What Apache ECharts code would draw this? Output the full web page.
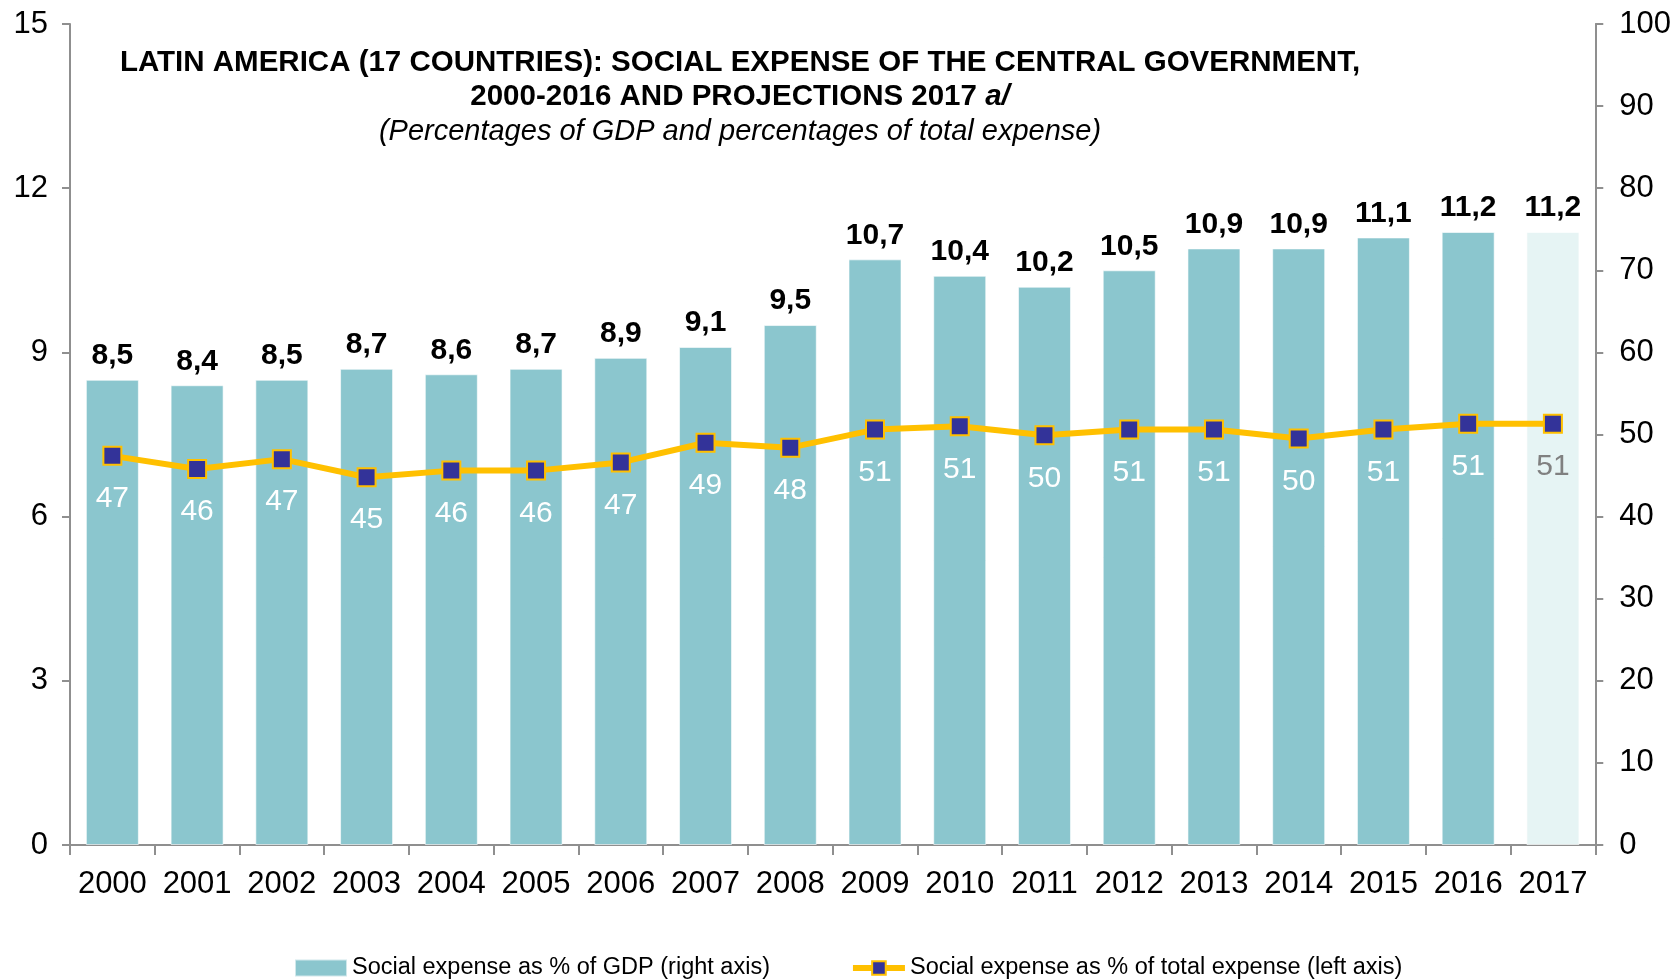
<!DOCTYPE html>
<html>
<head>
<meta charset="utf-8">
<script src="https://cdn.jsdelivr.net/npm/echarts@6/dist/echarts.min.js"></script>
<style>
html,body{margin:0;padding:0;background:#fff;}
#chart{width:1674px;height:979px;}
</style>
</head>
<body>
<div id="chart"></div>
<script>
var years = ['2000','2001','2002','2003','2004','2005','2006','2007','2008','2009','2010','2011','2012','2013','2014','2015','2016','2017'];
var gdpShare = [8.5, 8.4, 8.5, 8.7, 8.6, 8.7, 8.9, 9.1, 9.5, 10.7, 10.4, 10.2, 10.5, 10.9, 10.9, 11.1, 11.2, 11.2];
var totalShare = [47.4, 45.8, 47.0, 44.8, 45.6, 45.6, 46.6, 49.0, 48.4, 50.6, 51.0, 49.9, 50.6, 50.6, 49.5, 50.6, 51.3, 51.3];
var leftTicks = {min: 0, max: 15, interval: 3};
var rightTicks = {min: 0, max: 100, interval: 10};
var barName = 'Social expense as % of GDP (right axis)';
var lineName = 'Social expense as % of total expense (left axis)';
var titleLine1 = 'LATIN AMERICA (17 COUNTRIES): SOCIAL EXPENSE OF THE CENTRAL GOVERNMENT,';
var titleLine2a = '2000-2016 AND PROJECTIONS 2017 ';
var titleLine2b = 'a/';
var subtitle = '(Percentages of GDP and percentages of total expense)';

var FONT = "'Liberation Sans', Arial, sans-serif";
var lastIdx = years.length - 1;

var barData = gdpShare.map(function (v, i) {
  return {
    value: v,
    itemStyle: { color: i === lastIdx ? '#E6F4F4' : '#8BC6CE' }
  };
});
var lineData = totalShare.map(function (v, i) {
  return {
    value: v,
    label: { color: i === lastIdx ? '#808080' : '#ffffff' }
  };
});

var chart = echarts.init(document.getElementById('chart'), null, {renderer: 'canvas'});
chart.setOption({
  backgroundColor: '#ffffff',
  animation: false,
  textStyle: { fontFamily: FONT },
  grid: { left: 70, right: 77, top: 24, bottom: 134, containLabel: false },
  graphic: [
    { type: 'text', x: 740, y: 63, style: { text: titleLine1, font: 'bold 29.5px ' + FONT, fill: '#000', textAlign: 'center', textVerticalAlign: 'middle' } },
    { type: 'text', x: 740, y: 97, style: {
        text: '{b|' + titleLine2a + '}{i|' + titleLine2b + '}',
        textAlign: 'center', textVerticalAlign: 'middle',
        rich: {
          b: { fontFamily: FONT, fontWeight: 'bold', fontSize: 29.5, fill: '#000', color: '#000' },
          i: { fontFamily: FONT, fontWeight: 'bold', fontStyle: 'italic', fontSize: 29.5, fill: '#000', color: '#000' }
        }
    } },
    { type: 'text', x: 740, y: 132, style: { text: subtitle, font: 'italic 29px ' + FONT, fill: '#000', textAlign: 'center', textVerticalAlign: 'middle' } }
  ],
  legend: {
    left: 289, top: 951,
    itemWidth: 52, itemHeight: 17, itemGap: 80,
    textStyle: { fontSize: 23.5, color: '#000', fontFamily: FONT },
    data: [
      { name: barName, icon: 'rect' },
      { name: lineName, lineStyle: { width: 6, color: '#FFC000' } }
    ]
  },
  xAxis: {
    type: 'category',
    data: years,
    axisLine: { lineStyle: { color: '#8f8f8f', width: 2 } },
    axisTick: { show: true, interval: 0, length: 10, lineStyle: { color: '#8f8f8f', width: 2 } },
    axisLabel: { interval: 0, hideOverlap: false, fontSize: 31, color: '#000', margin: 24, fontFamily: FONT },
    splitLine: { show: false }
  },
  yAxis: [
    {
      type: 'value', position: 'left',
      min: leftTicks.min, max: leftTicks.max, interval: leftTicks.interval,
      axisLine: { show: true, lineStyle: { color: '#8f8f8f', width: 2 } },
      axisTick: { show: true, length: 8, lineStyle: { color: '#8f8f8f', width: 2 } },
      axisLabel: { fontSize: 31, color: '#000', margin: 22, fontFamily: FONT },
      splitLine: { show: false }
    },
    {
      type: 'value', position: 'right',
      min: rightTicks.min, max: rightTicks.max, interval: rightTicks.interval,
      axisLine: { show: true, lineStyle: { color: '#8f8f8f', width: 2 } },
      axisTick: { show: true, length: 8, lineStyle: { color: '#8f8f8f', width: 2 } },
      axisLabel: { fontSize: 31, color: '#000', margin: 24, fontFamily: FONT },
      splitLine: { show: false }
    }
  ],
  series: [
    {
      name: barName, type: 'bar', yAxisIndex: 0,
      data: barData, barWidth: 53,
      itemStyle: { color: '#8BC6CE', borderColor: 'rgba(255,255,255,0.6)', borderWidth: 1 },
      label: {
        show: true, position: 'top', distance: 9,
        fontSize: 30, fontWeight: 'bold', color: '#000', fontFamily: FONT,
        formatter: function (p) { return p.value.toFixed(1).replace('.', ','); }
      },
      z: 1
    },
    {
      name: lineName, type: 'line', yAxisIndex: 1,
      data: lineData,
      symbol: 'rect', symbolSize: 18,
      lineStyle: { color: '#FFC000', width: 6 },
      itemStyle: { color: '#333399', borderColor: '#FFC000', borderWidth: 2 },
      label: {
        show: true, position: 'bottom', distance: 18,
        fontSize: 30, color: '#fff', fontFamily: FONT,
        formatter: function (p) { return Math.round(p.value); }
      },
      z: 3
    }
  ]
});
</script>
</body>
</html>
